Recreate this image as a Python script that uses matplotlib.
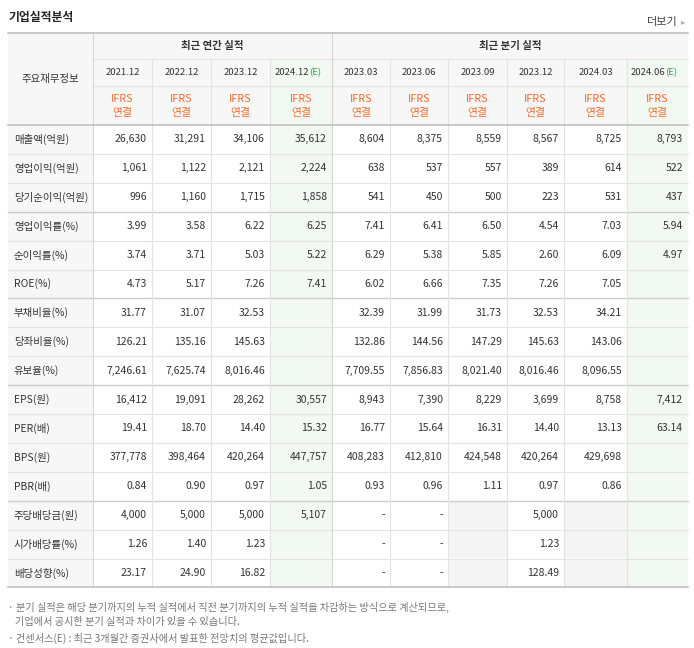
import matplotlib
matplotlib.use("Agg")
import matplotlib.pyplot as plt
from matplotlib.patches import Rectangle

plt.rcParams["font.family"] = ["Noto Sans CJK JP", "Noto Sans CJK KR", "DejaVu Sans"]

periods = ["2021.12", "2022.12", "2023.12", "2024.12", "2023.03", "2023.06", "2023.09", "2023.12", "2024.03", "2024.06"]
estimate = [False, False, False, True, False, False, False, False, False, True]
row_labels = ["매출액(억원)", "영업이익(억원)", "당기순이익(억원)", "영업이익률(%)", "순이익률(%)", "ROE(%)",
              "부채비율(%)", "당좌비율(%)", "유보율(%)", "EPS(원)", "PER(배)", "BPS(원)", "PBR(배)",
              "주당배당금(원)", "시가배당률(%)", "배당성향(%)"]
values = [
    ["26,630", "31,291", "34,106", "35,612", "8,604", "8,375", "8,559", "8,567", "8,725", "8,793"],
    ["1,061", "1,122", "2,121", "2,224", "638", "537", "557", "389", "614", "522"],
    ["996", "1,160", "1,715", "1,858", "541", "450", "500", "223", "531", "437"],
    ["3.99", "3.58", "6.22", "6.25", "7.41", "6.41", "6.50", "4.54", "7.03", "5.94"],
    ["3.74", "3.71", "5.03", "5.22", "6.29", "5.38", "5.85", "2.60", "6.09", "4.97"],
    ["4.73", "5.17", "7.26", "7.41", "6.02", "6.66", "7.35", "7.26", "7.05", ""],
    ["31.77", "31.07", "32.53", "", "32.39", "31.99", "31.73", "32.53", "34.21", ""],
    ["126.21", "135.16", "145.63", "", "132.86", "144.56", "147.29", "145.63", "143.06", ""],
    ["7,246.61", "7,625.74", "8,016.46", "", "7,709.55", "7,856.83", "8,021.40", "8,016.46", "8,096.55", ""],
    ["16,412", "19,091", "28,262", "30,557", "8,943", "7,390", "8,229", "3,699", "8,758", "7,412"],
    ["19.41", "18.70", "14.40", "15.32", "16.77", "15.64", "16.31", "14.40", "13.13", "63.14"],
    ["377,778", "398,464", "420,264", "447,757", "408,283", "412,810", "424,548", "420,264", "429,698", ""],
    ["0.84", "0.90", "0.97", "1.05", "0.93", "0.96", "1.11", "0.97", "0.86", ""],
    ["4,000", "5,000", "5,000", "5,107", "-", "-", "", "5,000", "", ""],
    ["1.26", "1.40", "1.23", "", "-", "-", "", "1.23", "", ""],
    ["23.17", "24.90", "16.82", "", "-", "-", "", "128.49", "", ""],
]
group_breaks = [3, 6, 9, 13]

W, H = 694, 648
fig = plt.figure(figsize=(W / 100, H / 100), dpi=100)
ax = fig.add_axes([0, 0, 1, 1])
ax.set_xlim(0, W); ax.set_ylim(H, 0); ax.axis("off")

xs = [8, 93, 152, 211, 270, 332, 390, 448, 507, 564, 627, 688]
ytop, y1, y2, y3 = 33, 59, 86, 125
rh = 28.9
nrows = len(row_labels)
ybot = y3 + rh * nrows

txt = "#333333"
grid = "#e3e3e3"
hdr_bg = "#f7f7f7"
est_bg = "#f2f8f2"

ax.add_patch(Rectangle((xs[0], ytop), xs[-1] - xs[0], y3 - ytop, color=hdr_bg, lw=0))
ax.add_patch(Rectangle((xs[0], y3), xs[1] - xs[0], ybot - y3, color=hdr_bg, lw=0))
for j, e in enumerate(estimate):
    if e:
        ax.add_patch(Rectangle((xs[j + 1], y1), xs[j + 2] - xs[j + 1], ybot - y1, color=est_bg, lw=0))
for i in range(nrows):
    for j in range(len(periods)):
        if values[i][j] == "" and not estimate[j]:
            ax.add_patch(Rectangle((xs[j + 1], y3 + i * rh), xs[j + 2] - xs[j + 1], rh, color="#f4f4f4", lw=0))

for i in range(1, nrows):
    y = y3 + i * rh
    c, lw = ("#cccccc", 1.0) if i in group_breaks else (grid, 0.8)
    ax.plot([xs[0], xs[-1]], [y, y], color=c, lw=lw)
ax.plot([xs[1], xs[-1]], [y1, y1], color=grid, lw=0.8)
ax.plot([xs[1], xs[-1]], [y2, y2], color=grid, lw=0.8)
for k, x in enumerate(xs[1:-1], start=1):
    top = ytop if k in (1, 5) else y1
    ax.plot([x, x], [top, ybot], color="#d5d5d5" if k in (1, 5) else grid, lw=0.8)
for y in (ytop, y3, ybot):
    ax.plot([xs[0], xs[-1]], [y, y], color="#bbbbbb", lw=1.1)

ax.text(8, 17, "기업실적분석", fontsize=8.5, color="#222222", fontweight="bold", va="center")
ax.text(678, 22, "더보기", fontsize=8, color="#444444", va="center", ha="right")
ax.text(685, 22, "▸", fontsize=6, color="#aaaaaa", va="center", ha="right")
ax.text((xs[0] + xs[1]) / 2, (ytop + y3) / 2, "주요재무정보", fontsize=7.5, color=txt, ha="center", va="center")
ax.text((xs[1] + xs[5]) / 2, (ytop + y1) / 2, "최근 연간 실적", fontsize=7.5, color=txt, ha="center", va="center", fontweight="bold")
ax.text((xs[5] + xs[-1]) / 2, (ytop + y1) / 2, "최근 분기 실적", fontsize=7.5, color=txt, ha="center", va="center", fontweight="bold")
for j, p in enumerate(periods):
    cx = (xs[j + 1] + xs[j + 2]) / 2
    if estimate[j]:
        ax.text(cx + 8, (y1 + y2) / 2, p, fontsize=6.8, color=txt, ha="right", va="center")
        ax.text(cx + 8, (y1 + y2) / 2, "(E)", fontsize=6.8, color="#3a9a55", ha="left", va="center")
    else:
        ax.text(cx, (y1 + y2) / 2, p, fontsize=6.8, color=txt, ha="center", va="center")
    ax.text(cx, 99, "IFRS", fontsize=7.8, color="#f26b2a", ha="center", va="center")
    ax.text(cx, 113, "연결", fontsize=7.8, color="#f26b2a", ha="center", va="center")

for i, lab in enumerate(row_labels):
    cy = y3 + (i + 0.5) * rh
    ax.text(14, cy, lab, fontsize=7.5, color=txt, ha="left", va="center")
    for j in range(len(periods)):
        v = values[i][j]
        if v:
            ax.text(xs[j + 2] - 5, cy, v, fontsize=7.5, color=txt, ha="right", va="center")

ax.text(8, 607, "· 분기 실적은 해당 분기까지의 누적 실적에서 직전 분기까지의 누적 실적을 차감하는 방식으로 계산되므로,",
        fontsize=7.3, color="#777777", va="center")
ax.text(15, 622, "기업에서 공시한 분기 실적과 차이가 있을 수 있습니다.", fontsize=7.3, color="#777777", va="center")
ax.text(8, 638, "· 컨센서스(E) : 최근 3개월간 증권사에서 발표한 전망치의 평균값입니다.", fontsize=7.3, color="#777777", va="center")

fig.savefig("out.png", dpi=100)
